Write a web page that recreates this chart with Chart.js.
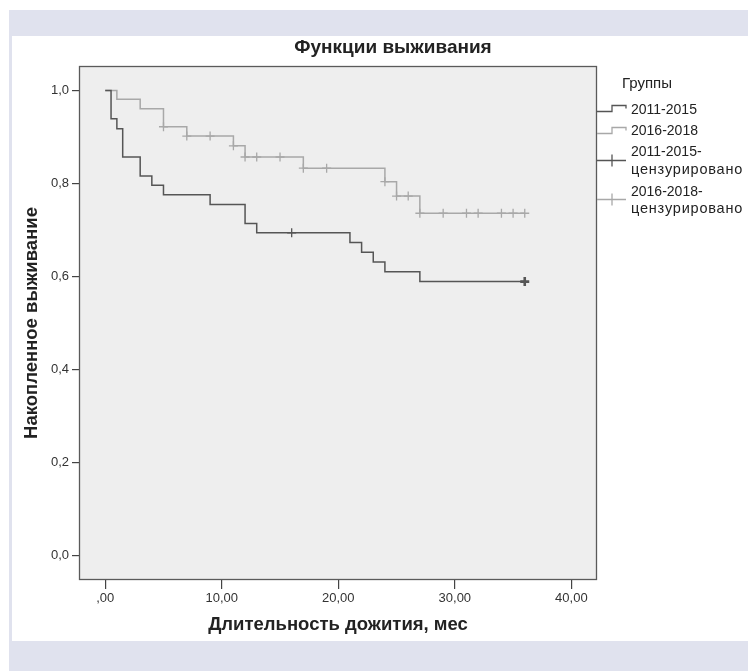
<!DOCTYPE html>
<html><head><meta charset="utf-8">
<script src="https://cdn.jsdelivr.net/npm/chart.js@4"></script>
<style>
html,body{margin:0;padding:0;background:#fff;width:748px;height:671px;overflow:hidden}
#topband{position:absolute;left:9px;top:10px;width:739px;height:26px;background:#e0e2ee}
#leftband{position:absolute;left:9px;top:36px;width:3px;height:605px;background:#e0e2ee}
#botband{position:absolute;left:9px;top:641px;width:739px;height:30px;background:#e0e2ee}
#c{position:absolute;left:0;top:0}
</style></head>
<body>
<div id="topband"></div><div id="leftband"></div><div id="botband"></div>
<canvas id="c" width="748" height="671"></canvas>
<script>
const chartTitle = 'Функции выживания';
const xTitle = 'Длительность дожития, мес';
const yTitle = 'Накопленное выживание';
const legendTitle = 'Группы';
const group1Label = '2011-2015';
const group2Label = '2016-2018';
const censorSuffix = 'цензурировано';

const xTickValues = [0, 10, 20, 30, 40];
const xTickLabels = [',00', '10,00', '20,00', '30,00', '40,00'];
const yTickValues = [0, 0.2, 0.4, 0.6, 0.8, 1.0];
const yTickLabels = ['0,0', '0,2', '0,4', '0,6', '0,8', '1,0'];

const group1Times = [0, 0.5, 1, 1.5, 3, 4, 5, 9, 12, 13, 21, 22, 23, 24, 27, 36];
const group1Surv  = [1, 0.939, 0.918, 0.857, 0.816, 0.796, 0.776, 0.755, 0.714, 0.694, 0.673, 0.652, 0.631, 0.610, 0.589, 0.589];
const group1CensorTimes = [16, 36];
const group1CensorSurv  = [0.694, 0.589];
const group1CensorWidth = [1.3, 2.6];

const group2Times = [0, 1, 3, 5, 7, 11, 12, 17, 24, 25, 27, 36];
const group2Surv  = [1, 0.981, 0.961, 0.922, 0.902, 0.881, 0.857, 0.833, 0.804, 0.773, 0.736, 0.736];
const group2CensorTimes = [5, 7, 9, 11, 12, 13, 15, 17, 19, 24, 25, 26, 27, 29, 31, 32, 34, 35, 36];
const group2CensorSurv  = [0.922, 0.902, 0.902, 0.881, 0.857, 0.857, 0.857, 0.833, 0.833, 0.804, 0.773, 0.773, 0.736, 0.736, 0.736, 0.736, 0.736, 0.736, 0.736];

const darkColor = '#555555';
const lightColor = '#a8a8a8';
const FONT = '"Liberation Sans", Arial, sans-serif';

function zip(xs, ys){ return xs.map((x,i)=>({x:x, y:ys[i]})); }

const areaPlugin = {
  id:'area',
  beforeDatasetsDraw(chart){
    const {ctx, chartArea:a} = chart;
    ctx.save();
    ctx.fillStyle = '#eeeeee';
    ctx.fillRect(a.left, a.top, a.right-a.left, a.bottom-a.top);
    ctx.restore();
  },
  afterDraw(chart){
    const {ctx, chartArea:a} = chart;
    ctx.save();
    ctx.strokeStyle = '#5a5a5a';
    ctx.lineWidth = 1.3;
    ctx.strokeRect(a.left+0.5, a.top+0.5, a.right-a.left-1, a.bottom-a.top-1);
    ctx.fillStyle = '#222';
    ctx.textAlign = 'center';
    ctx.textBaseline = 'middle';
    // chart title
    ctx.font = 'bold 19px ' + FONT;
    ctx.fillText(chartTitle, 393, 48);
    // axis titles
    ctx.font = 'bold 18.5px ' + FONT;
    ctx.fillText(xTitle, (a.left + a.right)/2, 625);
    ctx.save();
    ctx.translate(32, (a.top + a.bottom)/2);
    ctx.rotate(-Math.PI/2);
    ctx.fillText(yTitle, 0, 0);
    ctx.restore();
    // legend
    ctx.font = '15px ' + FONT;
    ctx.fillText(legendTitle, 647, 84);
    ctx.textAlign = 'left';
    ctx.font = '14px ' + FONT;
    const tx = 631;
    ctx.fillText(group1Label, tx, 110);
    ctx.fillText(group2Label, tx, 131);
    ctx.fillText(group1Label + '-', tx, 152);
    ctx.fillText(group2Label + '-', tx, 192);
    ctx.font = '14.5px ' + FONT;
    if ('letterSpacing' in ctx) ctx.letterSpacing = '0.8px';
    ctx.fillText(censorSuffix, tx, 170);
    ctx.fillText(censorSuffix, tx, 209);
    if ('letterSpacing' in ctx) ctx.letterSpacing = '0px';
    ctx.lineWidth = 1.3;
    function step(y1, y2, col){
      ctx.strokeStyle = col;
      ctx.beginPath();
      ctx.moveTo(597, y1); ctx.lineTo(612, y1); ctx.lineTo(612, y2); ctx.lineTo(626, y2); ctx.lineTo(626, y2+3);
      ctx.stroke();
    }
    step(111.5, 105.5, darkColor);
    step(133.5, 127.5, lightColor);
    function cross(y, col){
      ctx.strokeStyle = col;
      ctx.beginPath();
      ctx.moveTo(597, y); ctx.lineTo(626, y);
      ctx.moveTo(612, y-6); ctx.lineTo(612, y+6);
      ctx.stroke();
    }
    cross(160.5, darkColor);
    cross(199.5, lightColor);
    ctx.restore();
  }
};

new Chart(document.getElementById('c'), {
  type:'line',
  data:{datasets:[
    {label:group1Label+'-'+censorSuffix, data:zip(group1CensorTimes, group1CensorSurv), showLine:false,
     pointStyle:'cross', pointRadius:4.5, borderColor:darkColor, pointBorderWidth:group1CensorWidth, borderWidth:1.3},
    {label:group2Label+'-'+censorSuffix, data:zip(group2CensorTimes, group2CensorSurv), showLine:false,
     pointStyle:'cross', pointRadius:4.5, borderColor:lightColor, pointBorderWidth:1.3, borderWidth:1.3},
    {label:group1Label, data:zip(group1Times, group1Surv), stepped:true, borderColor:darkColor, borderWidth:1.5, pointRadius:0, fill:false},
    {label:group2Label, data:zip(group2Times, group2Surv), stepped:true, borderColor:lightColor, borderWidth:1.5, pointRadius:0, fill:false}
  ]},
  options:{
    responsive:false, animation:false, devicePixelRatio:1,
    layout:{padding:{left:12, top:66, right:151, bottom:30}},
    plugins:{legend:{display:false}, tooltip:{enabled:false}, title:{display:false}},
    scales:{
      x:{type:'linear', min:-2.25, max:42.2,
        afterBuildTicks:s=>{ s.ticks = xTickValues.map(v=>({value:v})); },
        afterFit:s=>{ s.height = 61; },
        ticks:{callback:(v,i)=>xTickLabels[i], color:'#333', font:{family:FONT, size:13}, padding:2, maxRotation:0, autoSkip:false},
        grid:{drawOnChartArea:false, drawTicks:true, tickLength:9, color:'#444', lineWidth:1.2},
        border:{display:false},
        title:{display:false}
      },
      y:{type:'linear', min:-0.0527, max:1.0527,
        afterBuildTicks:s=>{ s.ticks = yTickValues.map(v=>({value:v})); },
        afterFit:s=>{ s.width = 67; },
        ticks:{callback:(v,i)=>yTickLabels[i], color:'#333', font:{family:FONT, size:13}, padding:3, autoSkip:false},
        grid:{drawOnChartArea:false, drawTicks:true, tickLength:7, color:'#444', lineWidth:1.2},
        border:{display:false},
        title:{display:false}
      }
    }
  },
  plugins:[areaPlugin]
});
</script>
</body></html>
